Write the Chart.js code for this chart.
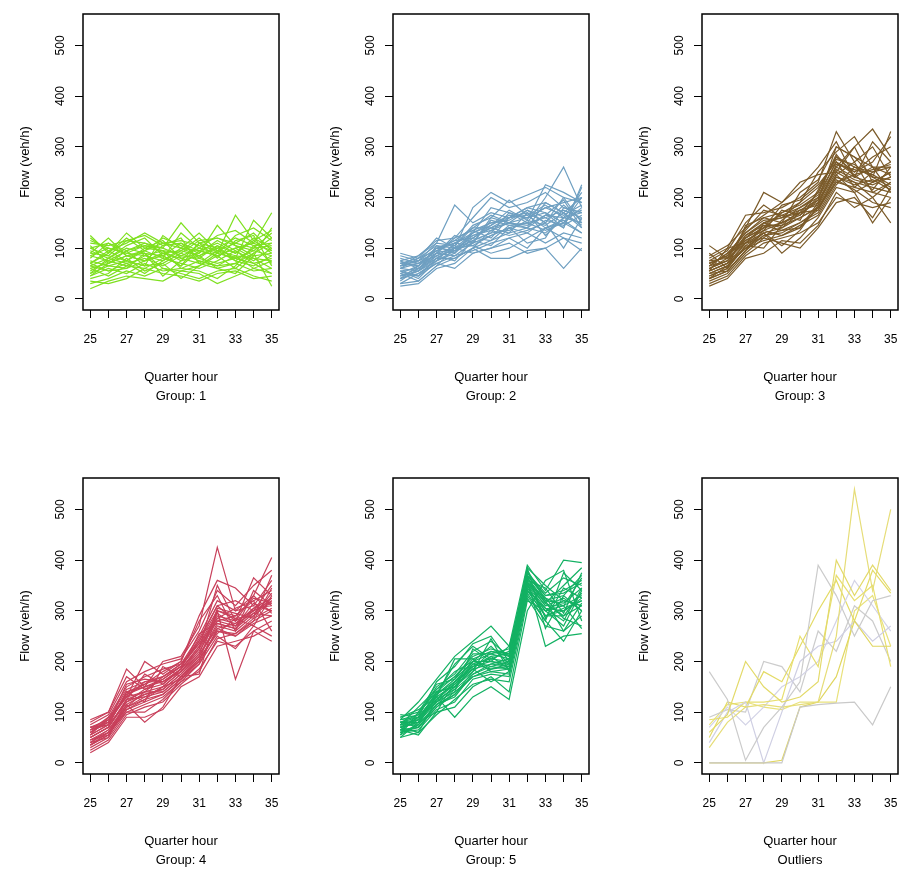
<!DOCTYPE html>
<html>
<head>
<meta charset="utf-8">
<title>Flow by quarter hour</title>
<script src="https://cdn.jsdelivr.net/npm/chart.js@4.4.0/dist/chart.umd.min.js"></script>
<style>
  html, body { margin: 0; padding: 0; background: #fff; width: 900px; height: 871px; overflow: hidden; }
  canvas { position: absolute; }
</style>
</head>
<body>
<canvas id="panel-1" width="300" height="420" style="left:0px;top:0px"></canvas>
<canvas id="panel-2" width="300" height="420" style="left:310px;top:0px"></canvas>
<canvas id="panel-3" width="300" height="420" style="left:619px;top:0px"></canvas>
<canvas id="panel-4" width="300" height="420" style="left:0px;top:464px"></canvas>
<canvas id="panel-5" width="300" height="420" style="left:310px;top:464px"></canvas>
<canvas id="panel-6" width="300" height="420" style="left:619px;top:464px"></canvas>
<script>
var quarters = [25, 26, 27, 28, 29, 30, 31, 32, 33, 34, 35];
var xTickLabels = [25, 27, 29, 31, 33, 35];
var panelTitles = ['Group: 1', 'Group: 2', 'Group: 3', 'Group: 4', 'Group: 5', 'Outliers'];

// flow (veh/h) per quarter hour, one row per detector day
var group1 = [
  [60, 70, 85, 75, 90, 80, 70, 95, 85, 80, 75],
  [95, 80, 100, 90, 85, 110, 95, 85, 100, 110, 95],
  [120, 95, 110, 130, 110, 100, 95, 110, 90, 120, 100],
  [45, 60, 50, 70, 55, 60, 75, 65, 70, 55, 60],
  [30, 40, 55, 45, 60, 50, 40, 55, 60, 45, 35],
  [80, 110, 95, 105, 100, 150, 110, 100, 120, 105, 110],
  [70, 90, 130, 100, 95, 90, 115, 120, 110, 100, 130],
  [100, 85, 75, 95, 120, 105, 90, 145, 105, 95, 120],
  [55, 75, 65, 60, 80, 70, 60, 75, 95, 70, 80],
  [20, 35, 45, 40, 35, 55, 50, 30, 45, 60, 50],
  [85, 100, 90, 85, 75, 95, 120, 90, 165, 115, 90],
  [65, 55, 70, 80, 65, 85, 80, 70, 80, 155, 120],
  [110, 105, 115, 110, 100, 85, 100, 125, 135, 110, 170],
  [40, 50, 80, 55, 70, 40, 65, 85, 60, 90, 25],
  [75, 65, 60, 90, 45, 75, 85, 105, 75, 65, 85],
  [90, 120, 85, 75, 105, 120, 70, 60, 50, 85, 140],
  [50, 80, 105, 120, 85, 65, 110, 80, 115, 125, 65],
  [105, 70, 95, 65, 125, 100, 130, 95, 75, 100, 105],
  [35, 30, 40, 60, 50, 45, 35, 50, 55, 40, 45],
  [70, 95, 75, 100, 115, 80, 90, 115, 95, 75, 100],
  [125, 90, 120, 95, 80, 130, 100, 90, 125, 140, 115],
  [60, 45, 65, 85, 95, 60, 55, 40, 65, 105, 70],
  [85, 75, 95, 110, 90, 95, 85, 100, 80, 95, 85],
  [50, 65, 75, 65, 70, 90, 75, 65, 85, 60, 75],
  [100, 110, 85, 95, 110, 115, 105, 95, 110, 130, 95],
  [70, 55, 60, 75, 85, 65, 95, 85, 100, 80, 60],
  [90, 85, 115, 125, 105, 110, 80, 105, 90, 115, 135],
  [65, 80, 70, 50, 75, 100, 85, 60, 70, 90, 110],
  [115, 100, 90, 105, 95, 75, 110, 120, 105, 85, 90],
  [45, 70, 85, 90, 60, 55, 65, 90, 80, 70, 50]
];

var group2 = [
  [55, 60, 90, 100, 120, 140, 150, 160, 170, 150, 180],
  [40, 50, 75, 95, 110, 125, 140, 150, 160, 175, 160],
  [70, 65, 100, 110, 130, 150, 160, 170, 150, 200, 190],
  [30, 35, 65, 80, 100, 115, 130, 140, 130, 160, 150],
  [85, 75, 110, 185, 150, 170, 160, 180, 190, 170, 200],
  [60, 80, 95, 90, 130, 180, 170, 150, 200, 260, 180],
  [45, 55, 80, 100, 90, 100, 120, 130, 110, 130, 120],
  [25, 30, 60, 70, 100, 80, 80, 95, 100, 60, 100],
  [65, 70, 85, 105, 140, 165, 150, 175, 160, 140, 220],
  [50, 45, 70, 85, 95, 110, 120, 100, 140, 150, 130],
  [75, 85, 115, 120, 160, 200, 180, 190, 210, 180, 170],
  [35, 60, 85, 75, 115, 130, 170, 160, 180, 190, 200],
  [90, 80, 120, 100, 180, 210, 190, 205, 220, 200, 150],
  [55, 40, 75, 110, 105, 90, 100, 120, 140, 120, 110],
  [40, 65, 100, 95, 125, 140, 130, 170, 125, 160, 210],
  [70, 75, 90, 125, 110, 155, 145, 140, 190, 170, 140],
  [30, 50, 70, 60, 90, 100, 110, 90, 100, 120, 95],
  [60, 55, 105, 90, 135, 120, 160, 180, 170, 140, 225],
  [80, 70, 95, 115, 120, 145, 175, 155, 225, 210, 190],
  [45, 60, 80, 80, 100, 135, 125, 135, 150, 100, 160],
  [50, 35, 65, 100, 115, 105, 140, 110, 120, 180, 170],
  [65, 85, 110, 105, 145, 160, 195, 165, 140, 155, 130],
  [60, 70, 95, 110, 125, 135, 150, 145, 165, 160, 175],
  [45, 55, 85, 95, 115, 130, 135, 155, 145, 170, 145],
  [70, 80, 105, 100, 130, 145, 165, 160, 180, 165, 185],
  [55, 45, 80, 100, 105, 125, 140, 130, 155, 145, 165],
  [75, 60, 90, 120, 135, 150, 155, 175, 150, 185, 155],
  [40, 55, 75, 90, 120, 115, 145, 150, 135, 150, 200],
  [65, 75, 100, 115, 140, 140, 160, 165, 185, 160, 170],
  [50, 65, 90, 85, 110, 160, 150, 140, 165, 195, 140]
];

var group3 = [
  [55, 70, 110, 140, 150, 170, 190, 260, 240, 230, 250],
  [40, 55, 95, 125, 130, 150, 170, 230, 220, 210, 200],
  [70, 85, 130, 160, 170, 185, 210, 280, 260, 250, 270],
  [30, 45, 85, 110, 120, 130, 150, 200, 190, 180, 190],
  [105, 80, 140, 210, 190, 230, 245, 250, 300, 335, 280],
  [60, 75, 120, 150, 160, 175, 195, 300, 280, 240, 330],
  [50, 65, 100, 130, 90, 120, 160, 220, 210, 150, 200],
  [80, 100, 165, 170, 180, 200, 230, 330, 270, 300, 240],
  [45, 60, 105, 100, 145, 160, 180, 240, 230, 200, 150],
  [65, 90, 115, 135, 175, 165, 200, 270, 250, 280, 300],
  [35, 50, 90, 120, 110, 100, 140, 190, 200, 160, 220],
  [75, 95, 150, 185, 160, 190, 250, 290, 320, 260, 260],
  [55, 70, 125, 145, 135, 140, 190, 250, 230, 220, 210],
  [25, 40, 80, 90, 115, 110, 145, 210, 180, 200, 230],
  [85, 105, 140, 165, 190, 220, 260, 310, 240, 310, 270],
  [60, 80, 110, 120, 155, 180, 200, 260, 300, 230, 240],
  [50, 55, 95, 150, 140, 170, 175, 235, 215, 190, 180],
  [70, 85, 135, 175, 165, 155, 215, 280, 250, 270, 320],
  [40, 65, 100, 115, 125, 145, 165, 225, 260, 240, 220],
  [65, 75, 120, 140, 185, 195, 225, 270, 220, 250, 260],
  [55, 100, 110, 130, 105, 135, 185, 245, 270, 210, 230],
  [90, 60, 145, 160, 150, 210, 235, 300, 280, 260, 210],
  [60, 75, 115, 135, 150, 165, 195, 255, 235, 225, 240],
  [45, 60, 105, 130, 140, 160, 180, 240, 225, 235, 215],
  [75, 80, 125, 150, 165, 180, 205, 270, 245, 215, 260],
  [50, 65, 110, 145, 145, 175, 185, 265, 255, 245, 225],
  [65, 90, 130, 155, 160, 170, 210, 285, 240, 260, 245],
  [55, 70, 100, 125, 135, 150, 175, 245, 210, 230, 250],
  [70, 85, 120, 140, 170, 190, 220, 275, 265, 240, 235],
  [40, 55, 95, 135, 125, 140, 180, 230, 245, 255, 265]
];

var group4 = [
  [50, 70, 125, 140, 150, 180, 220, 280, 270, 300, 315],
  [35, 55, 105, 120, 135, 165, 200, 260, 250, 280, 300],
  [70, 85, 145, 160, 170, 190, 240, 300, 290, 320, 340],
  [25, 45, 95, 110, 120, 155, 185, 240, 230, 260, 280],
  [80, 100, 185, 150, 200, 210, 270, 425, 300, 330, 405],
  [60, 80, 130, 200, 175, 200, 290, 360, 345, 310, 300],
  [45, 60, 115, 80, 110, 170, 175, 300, 165, 260, 240],
  [55, 75, 140, 150, 160, 185, 230, 290, 280, 365, 330],
  [40, 65, 110, 130, 140, 170, 210, 270, 260, 290, 320],
  [65, 90, 150, 170, 185, 195, 250, 320, 300, 310, 360],
  [30, 50, 100, 100, 125, 160, 195, 250, 225, 270, 250],
  [75, 95, 160, 180, 195, 205, 260, 340, 310, 350, 380],
  [50, 70, 120, 135, 145, 175, 215, 265, 275, 295, 290],
  [20, 40, 90, 90, 105, 150, 170, 230, 240, 250, 270],
  [85, 100, 170, 145, 165, 190, 245, 310, 320, 300, 350],
  [60, 85, 135, 155, 180, 200, 280, 330, 260, 340, 310],
  [45, 55, 110, 125, 150, 165, 205, 255, 285, 270, 330],
  [70, 80, 155, 165, 160, 180, 225, 350, 280, 330, 295],
  [35, 60, 100, 115, 130, 160, 180, 245, 255, 280, 345],
  [55, 90, 130, 140, 170, 195, 235, 285, 305, 320, 260],
  [40, 50, 125, 175, 155, 185, 255, 275, 265, 305, 325],
  [65, 75, 140, 120, 190, 170, 200, 305, 295, 285, 370],
  [55, 75, 120, 145, 155, 185, 225, 285, 275, 305, 310],
  [45, 65, 115, 135, 145, 175, 210, 275, 265, 295, 325],
  [65, 80, 135, 150, 165, 190, 235, 295, 270, 315, 300],
  [50, 70, 125, 130, 150, 180, 215, 300, 285, 290, 335],
  [60, 85, 130, 160, 160, 185, 230, 280, 290, 325, 315],
  [40, 60, 110, 140, 140, 170, 205, 260, 255, 285, 305],
  [70, 75, 140, 155, 170, 195, 240, 310, 280, 300, 320],
  [35, 55, 105, 125, 135, 165, 195, 265, 250, 275, 290]
];

var group5 = [
  [75, 85, 125, 155, 190, 200, 195, 355, 310, 310, 330],
  [60, 70, 110, 140, 170, 180, 175, 340, 290, 290, 310],
  [90, 100, 140, 170, 210, 225, 215, 370, 330, 340, 360],
  [50, 60, 95, 125, 155, 165, 160, 325, 270, 260, 290],
  [85, 120, 165, 210, 240, 270, 230, 390, 340, 400, 395],
  [70, 80, 130, 90, 130, 150, 125, 300, 360, 380, 280],
  [65, 55, 100, 160, 200, 190, 200, 360, 230, 250, 255],
  [80, 95, 150, 175, 220, 240, 210, 380, 320, 330, 370],
  [55, 75, 115, 135, 180, 210, 185, 345, 300, 270, 340],
  [95, 90, 135, 195, 230, 205, 220, 385, 350, 320, 310],
  [60, 65, 105, 120, 165, 175, 170, 330, 280, 240, 300],
  [75, 110, 145, 180, 200, 230, 195, 365, 315, 350, 385],
  [65, 85, 120, 150, 185, 160, 180, 350, 290, 300, 320],
  [80, 70, 115, 130, 175, 195, 205, 355, 325, 285, 270],
  [55, 100, 155, 165, 215, 215, 225, 375, 335, 365, 350],
  [70, 60, 125, 145, 195, 185, 190, 340, 305, 280, 345],
  [85, 90, 160, 190, 235, 250, 200, 385, 265, 330, 300],
  [50, 80, 100, 110, 150, 170, 140, 320, 300, 310, 265],
  [75, 75, 135, 160, 185, 220, 215, 360, 345, 295, 375],
  [90, 105, 130, 205, 205, 180, 185, 370, 285, 345, 325],
  [65, 90, 120, 140, 225, 200, 230, 350, 320, 260, 315],
  [80, 85, 140, 150, 180, 245, 180, 335, 280, 375, 340],
  [70, 80, 120, 150, 185, 195, 190, 350, 305, 300, 325],
  [80, 90, 135, 165, 200, 215, 205, 365, 320, 315, 345],
  [60, 75, 115, 145, 175, 190, 185, 345, 300, 320, 310],
  [75, 85, 130, 155, 195, 205, 200, 360, 315, 290, 335],
  [85, 95, 145, 170, 205, 220, 210, 375, 330, 335, 355],
  [65, 70, 110, 135, 170, 185, 195, 340, 290, 305, 320],
  [70, 90, 125, 160, 190, 210, 215, 355, 310, 325, 300],
  [80, 80, 140, 150, 200, 200, 190, 370, 325, 310, 365]
];

var outliers = [
  [60, 95, 200, 150, 120, 130, 160, 400, 330, 390, 340],
  [180, 125, 5, 70, 110, 160, 390, 330, 250, 320, 330],
  [30, 80, 110, 115, 110, 115, 120, 250, 540, 340, 500],
  [0, 0, 0, 0, 0, 110, 115, 118, 120, 75, 150],
  [0, 0, 0, 0, 5, 110, 120, 170, 280, 230, 230],
  [40, 100, 120, 0, 100, 200, 230, 240, 280, 240, 270],
  [85, 90, 120, 120, 125, 250, 190, 370, 320, 350, 190],
  [70, 110, 75, 110, 150, 170, 200, 280, 360, 310, 260],
  [50, 120, 110, 180, 160, 230, 300, 360, 280, 380, 335],
  [90, 105, 100, 200, 190, 140, 260, 220, 310, 280, 200],
  [75, 115, 120, 110, 105, 120, 120, 120, 300, 330, 230]
];

var groupColors = ['#7ee01f', '#6e9fc1', '#7a5a29', '#c8405b', '#13b163'];
var outlierColors = ['#e3da6a', '#cbcbcb', '#e6dd78', '#c9c9c9', '#e0d660', '#cfcfe3',
  '#e8df70', '#d3d3e6', '#e4db66', '#cccccc', '#e9e27c'];

Chart.defaults.font.family = "'Liberation Sans', Arial, sans-serif";
Chart.defaults.color = '#000';

var boxPlugin = {
  id: 'box',
  afterDraw: function (chart) {
    var a = chart.chartArea;
    var ctx = chart.ctx;
    ctx.save();
    ctx.strokeStyle = '#000';
    ctx.lineWidth = 1.5;
    ctx.strokeRect(a.left, a.top, a.right - a.left, a.bottom - a.top);
    ctx.restore();
  }
};

function drawPanel(id, rows, colors, title) {
  var datasets = rows.map(function (row, i) {
    return {
      data: row.map(function (v, j) { return { x: quarters[j], y: v }; }),
      borderColor: colors[i % colors.length],
      borderWidth: 1.2,
      pointRadius: 0,
      tension: 0,
      fill: false
    };
  });

  return new Chart(document.getElementById(id), {
    type: 'line',
    data: { datasets: datasets },
    plugins: [boxPlugin],
    options: {
      responsive: false,
      animation: false,
      events: [],
      layout: { padding: { top: 14, right: 21, bottom: 14, left: 0 } },
      plugins: { legend: { display: false }, tooltip: { enabled: false } },
      scales: {
        x: {
          type: 'linear',
          min: 24.6,
          max: 35.4,
          afterFit: function (scale) { scale.height = 96; },
          border: { display: false },
          grid: { drawOnChartArea: false, drawTicks: true, tickLength: 8, color: '#000', tickWidth: 1 },
          ticks: {
            stepSize: 1,
            includeBounds: false,
            autoSkip: false,
            maxRotation: 0,
            padding: 14,
            font: { size: 12 },
            callback: function (v) { return xTickLabels.indexOf(v) >= 0 ? String(v) : ''; }
          },
          title: {
            display: true,
            text: ['Quarter hour', title],
            font: { size: 13, lineHeight: 1.46 },
            padding: { top: 0, bottom: 0 }
          }
        },
        y: {
          min: -22,
          max: 562,
          afterFit: function (scale) { scale.width = 83; },
          border: { display: false },
          grid: { drawOnChartArea: false, drawTicks: true, tickLength: 8, color: '#000', tickWidth: 1 },
          ticks: {
            stepSize: 100,
            includeBounds: false,
            minRotation: 90,
            maxRotation: 90,
            crossAlign: 'center',
            padding: 4,
            font: { size: 12 }
          },
          title: {
            display: true,
            text: 'Flow (veh/h)',
            font: { size: 13, lineHeight: 1.2 },
            padding: { top: 18, bottom: 0 }
          }
        }
      }
    }
  });
}

drawPanel('panel-1', group1, [groupColors[0]], panelTitles[0]);
drawPanel('panel-2', group2, [groupColors[1]], panelTitles[1]);
drawPanel('panel-3', group3, [groupColors[2]], panelTitles[2]);
drawPanel('panel-4', group4, [groupColors[3]], panelTitles[3]);
drawPanel('panel-5', group5, [groupColors[4]], panelTitles[4]);
drawPanel('panel-6', outliers, outlierColors, panelTitles[5]);
</script>
</body>
</html>
